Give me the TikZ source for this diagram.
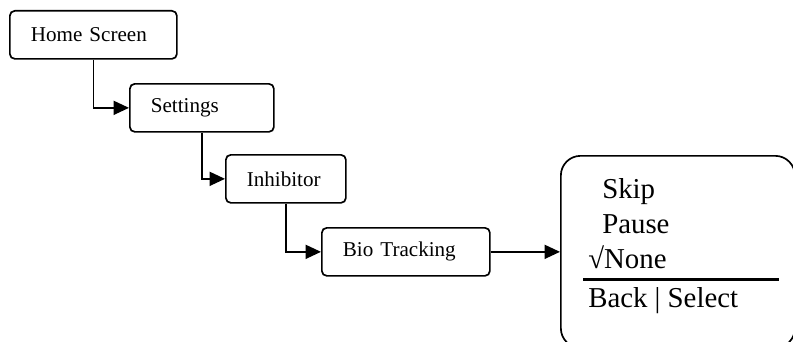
\documentclass[tikz,border=0pt]{standalone}
\usepackage{fontspec}
\setmainfont{Liberation Serif}
\usetikzlibrary{arrows.meta}

\begin{document}
\begin{tikzpicture}[x=0.025cm,y=-0.025cm,
        screen/.style={draw,line width=1.2pt,rounded corners=3.5pt,anchor=north west,align=left,
            inner xsep=0.525cm,inner ysep=0pt,minimum height=1.2cm,font=\fontsize{15}{18}\selectfont},
        link/.style={line width=1.2pt,-{Triangle[length=11pt,width=10pt]}},
        item/.style={anchor=base west,inner sep=0pt,font=\fontsize{20.5}{24}\selectfont}]
            \useasboundingbox (0,0) rectangle (793,341);
            \clip (0,0) rectangle (793,341);

            \node[screen,text width=3.125cm] (home) at (9,10) {Home Screen};
            \node[screen,text width=2.55cm] (settings) at (129,83) {Settings};
            \node[screen,text width=1.95cm] (inhibitor) at (225,154) {Inhibitor};
            \node[screen,text width=3.15cm] (bio) at (321,227) {Bio Tracking};

            % the menu screen runs off the page
            \node[draw,line width=1.2pt,rounded corners=14pt,anchor=north west,inner sep=0pt,
                minimum width=5.85cm,minimum height=4.8cm] (menu) at (560,155) {};

            \node[item] (skip) at (602,198) {Skip};
            \node[item] (pause) at (602,233) {Pause};
            \node[item] (none) at (588,268) {√None};
            \draw[line width=2.2pt] (583,279.5) -- (779,279.5);
            \node[item] (back) at (588,307) {Back | Select};

            \draw[link] (home.south) |- (settings.west);
            \draw[link] (settings.south) |- (inhibitor.west);
            \draw[link] (inhibitor.south) |- (bio.west);
            \draw[link] (bio.east) -- (bio.east -| menu.west);
        \end{tikzpicture}
\end{document}
